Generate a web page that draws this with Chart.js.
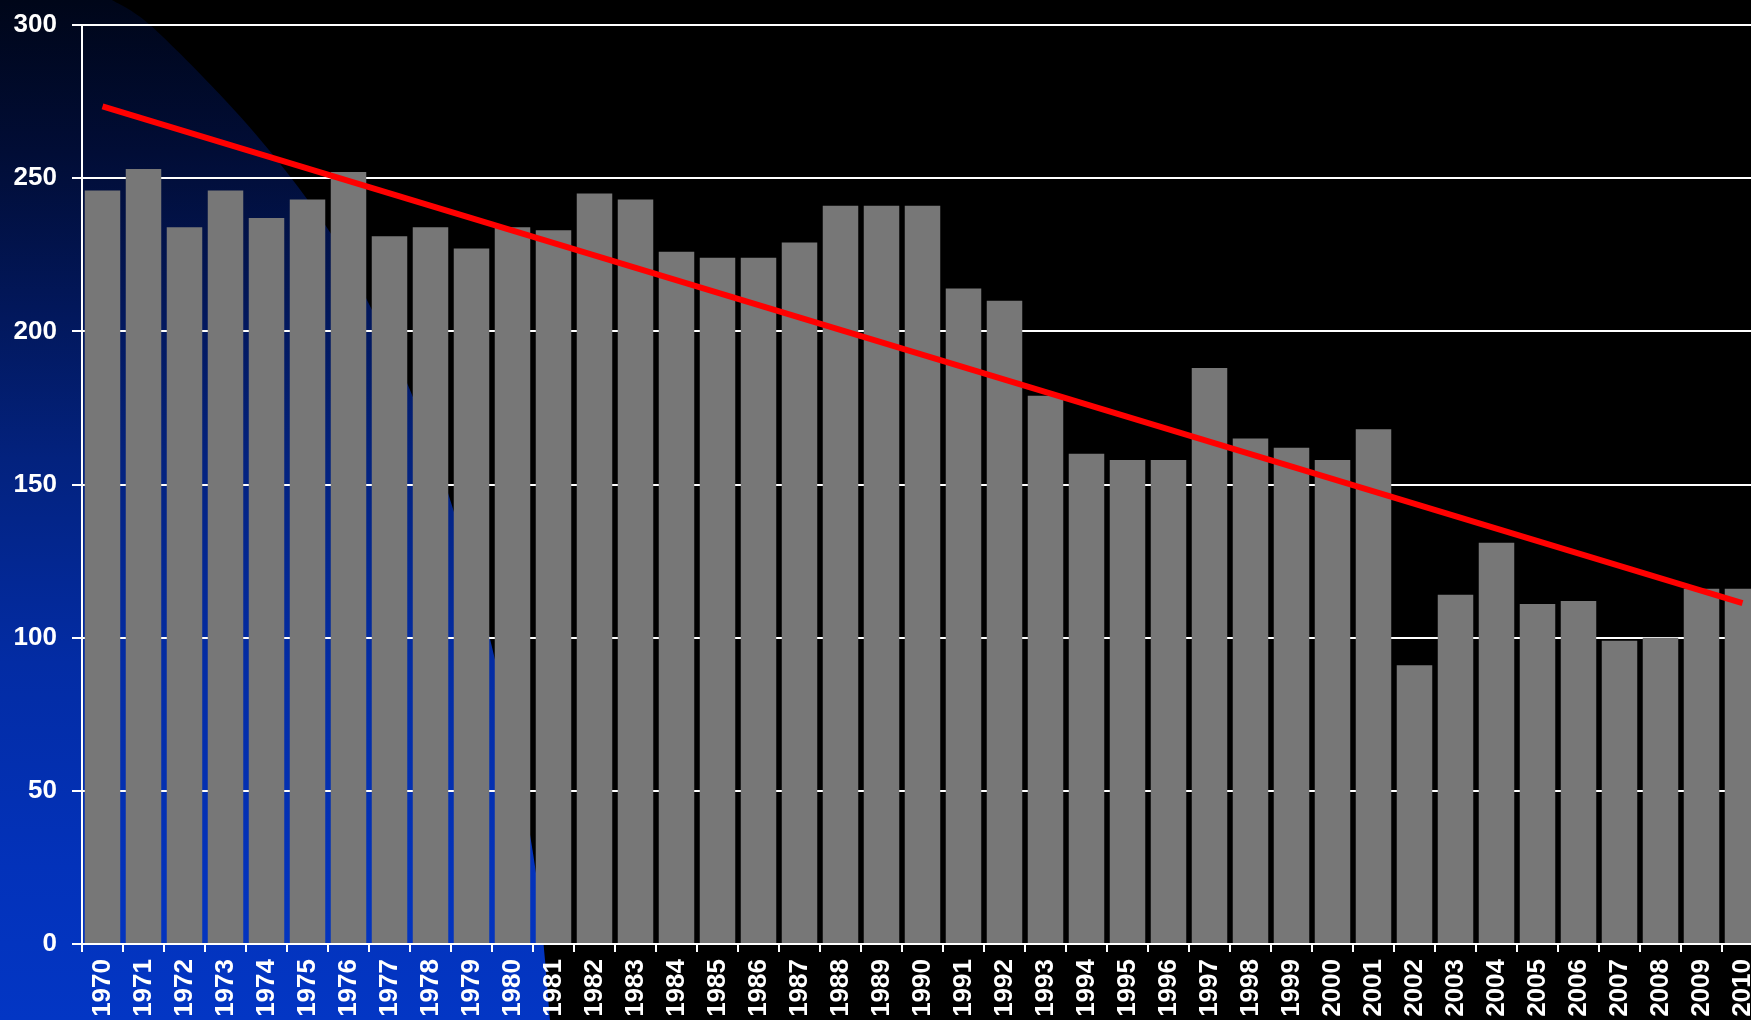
<!DOCTYPE html>
<html>
<head>
<meta charset="utf-8">
<title>1970–2010</title>
<script src="https://cdn.jsdelivr.net/npm/chart.js@4/dist/chart.umd.min.js"></script>
<style>
  html, body { margin: 0; padding: 0; background: #000; overflow: hidden; }
  #wrap { position: absolute; left: 0; top: 0; width: 1766px; height: 1020px; }
</style>
</head>
<body>
<div id="wrap"><canvas id="chart" width="1766" height="1020"></canvas></div>
<script>
// Years on the category axis
const years = [
  '1970','1971','1972','1973','1974','1975','1976','1977','1978','1979',
  '1980','1981','1982','1983','1984','1985','1986','1987','1988','1989',
  '1990','1991','1992','1993','1994','1995','1996','1997','1998','1999',
  '2000','2001','2002','2003','2004','2005','2006','2007','2008','2009','2010'
];

// Yearly totals (bars)
const values = [
  246, 253, 234, 246, 237, 243, 252, 231, 234, 227,
  234, 233, 245, 243, 226, 224, 224, 229, 241, 241,
  241, 214, 210, 179, 160, 158, 158, 188, 165, 162,
  158, 168, 91, 114, 131, 111, 112, 99, 100, 116, 116
];

// Trend line end points
const trendYears = ['1970', '2010'];
const trendValues = [273.4, 111.3];

// Value axis range
const yMin = 0;
const yMax = 300;
const yStep = 50;

const FONT = { family: "'Liberation Sans', Arial, sans-serif", size: 26, weight: 'bold' };

// Outline of the blue glow in the lower-left corner of the slide backdrop
const glowEdge = [
  [112, 0], [150, 25], [225, 100], [285, 170], [335, 240], [372, 310],
  [410, 390], [448, 493], [490, 639], [520, 780], [537, 880], [545, 960], [550, 1020], [551, 1030]
];

// Smooth curve through the outline points (Catmull-Rom as cubic Béziers)
function traceSmooth(ctx, pts) {
  for (let i = 0; i < pts.length - 1; i++) {
    const p0 = pts[Math.max(i - 1, 0)];
    const p1 = pts[i];
    const p2 = pts[i + 1];
    const p3 = pts[Math.min(i + 2, pts.length - 1)];
    const c1x = p1[0] + (p2[0] - p0[0]) / 6;
    const c1y = p1[1] + (p2[1] - p0[1]) / 6;
    const c2x = p2[0] - (p3[0] - p1[0]) / 6;
    const c2y = p2[1] - (p3[1] - p1[1]) / 6;
    ctx.bezierCurveTo(c1x, c1y, c2x, c2y, p2[0], p2[1]);
  }
}

// Black backdrop with a blue glow in the lower-left corner
const backdrop = {
  id: 'backdrop',
  beforeDraw(chart) {
    const ctx = chart.ctx;
    const w = chart.width, h = chart.height;
    ctx.save();
    ctx.fillStyle = '#000000';
    ctx.fillRect(0, 0, w, h);
    ctx.beginPath();
    ctx.moveTo(0, 0);
    ctx.lineTo(glowEdge[0][0], glowEdge[0][1]);
    traceSmooth(ctx, glowEdge);
    ctx.lineTo(0, 1030);
    ctx.closePath();
    ctx.clip();
    const g = ctx.createLinearGradient(0, 0, 0, h);
    g.addColorStop(0.00, '#000619');
    g.addColorStop(0.15, '#010d36');
    g.addColorStop(0.30, '#02175a');
    g.addColorStop(0.45, '#03227e');
    g.addColorStop(0.65, '#032ca4');
    g.addColorStop(0.85, '#0332ba');
    g.addColorStop(1.00, '#0336c4');
    ctx.fillStyle = g;
    ctx.fillRect(0, 0, w, h);
    ctx.restore();
  }
};

new Chart(document.getElementById('chart'), {
  data: {
    labels: years,
    datasets: [
      {
        type: 'line',
        data: trendYears.map((y, i) => ({ x: y, y: trendValues[i] })),
        borderColor: '#ff0000',
        borderWidth: 6,
        pointRadius: 0,
        fill: false,
        order: 0
      },
      {
        type: 'bar',
        data: values,
        backgroundColor: '#777777',
        borderWidth: 0,
        barPercentage: 0.866,
        categoryPercentage: 1.0,
        order: 1
      }
    ]
  },
  options: {
    responsive: false,
    animation: false,
    devicePixelRatio: 1,
    layout: { padding: { left: 0, top: 25, right: 3, bottom: 0 } },
    plugins: {
      legend: { display: false },
      tooltip: { enabled: false }
    },
    scales: {
      x: {
        type: 'category',
        offset: true,
        grid: {
          display: true,
          drawOnChartArea: false,
          drawTicks: true,
          tickLength: 8,
          color: '#ffffff',
          lineWidth: 2,
          offset: true
        },
        border: { display: true, color: '#ffffff', width: 2 },
        ticks: {
          color: '#ffffff',
          font: FONT,
          autoSkip: false,
          minRotation: 90,
          maxRotation: 90,
          padding: 7
        },
        afterFit(scale) {
          scale.height = 76;
          scale.paddingLeft = 0;
          scale.paddingRight = 0;
        }
      },
      y: {
        min: yMin,
        max: yMax,
        grid: {
          color: '#ffffff',
          lineWidth: 2,
          drawTicks: true,
          tickLength: 10
        },
        border: { display: true, color: '#ffffff', width: 2 },
        ticks: {
          stepSize: yStep,
          color: '#ffffff',
          font: FONT,
          padding: 15
        },
        afterFit(scale) {
          scale.width = 82;
          scale.paddingTop = 0;
          scale.paddingBottom = 0;
        }
      }
    }
  },
  plugins: [backdrop]
});
</script>
</body>
</html>
